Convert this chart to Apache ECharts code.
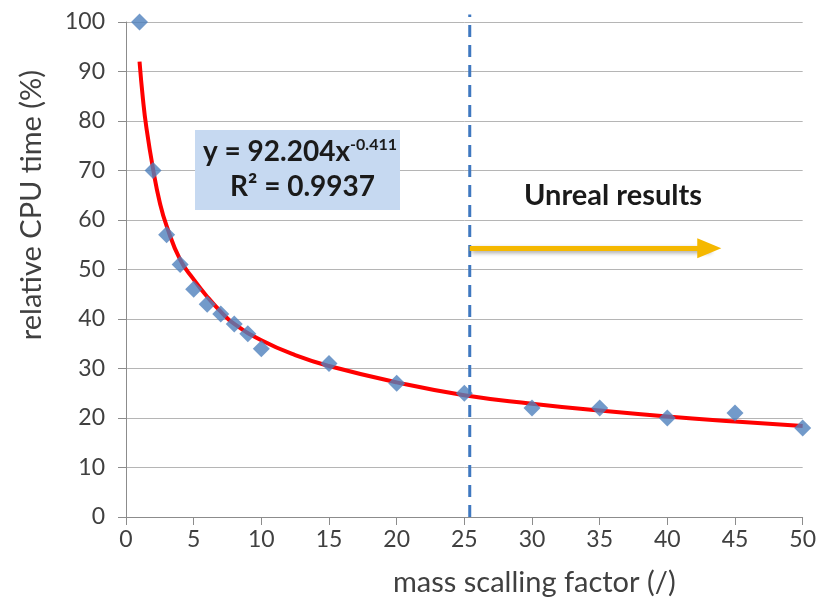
<!DOCTYPE html>
<html>
<head>
<meta charset="utf-8">
<script src="https://cdn.jsdelivr.net/npm/echarts@6/dist/echarts.min.js"></script>
<style>
  html, body { margin: 0; padding: 0; background: #fff; }
</style>
</head>
<body>
<div id="main" style="width: 819px; height: 602px"></div>
<script>
  // measured points
  var massFactor = [1, 2, 3, 4, 5, 6, 7, 8, 9, 10, 15, 20, 25, 30, 35, 40, 45, 50];
  var cpuTime = [100, 70, 57, 51, 46, 43, 41, 39, 37, 34, 31, 27, 25, 22, 22, 20, 21, 18];

  // power trend line
  var trendX = [1, 1.25, 1.5, 2, 2.5, 3, 4, 5, 6, 7, 8, 10, 12.5, 15, 20, 25, 30, 35, 40, 45, 50];
  var trendY = [92, 84.5, 78.8, 70.3, 63.5, 58.8, 52, 48, 44.5, 41.5, 39, 35.7, 32.7, 30.5, 27.2, 24.6, 22.9, 21.5, 20.3, 19.3, 18.4];

  var limitX = [25.4, 25.4];      // dashed "limit" line
  var limitY = [0, 101.5];
  var arrowY = 54.3;              // arrow height
  var arrowEndX = 43.1;

  var font = 'Lato, "Open Sans", sans-serif';

  var pts = [];
  for (var i = 0; i < massFactor.length; i++) pts.push([massFactor[i], cpuTime[i]]);
  var trend = [];
  for (var j = 0; j < trendX.length; j++) trend.push([trendX[j], trendY[j]]);
  var limit = [[limitX[0], limitY[0]], [limitX[1], limitY[1]]];

  var chart = echarts.init(document.getElementById('main'));
  chart.setOption({
    animation: false,
    grid: { left: 126, right: 16, top: 22, bottom: 85 },
    xAxis: {
      type: 'value', min: 0, max: 50, interval: 5,
      axisLine: { lineStyle: { color: '#8c8c8c', width: 1 } },
      axisTick: { show: true, length: 8, lineStyle: { color: '#8c8c8c' } },
      axisLabel: { color: '#404040', fontSize: 23, fontFamily: font, margin: 11 },
      splitLine: { show: false }
    },
    yAxis: {
      type: 'value', min: 0, max: 100, interval: 10,
      axisLine: { show: true, lineStyle: { color: '#8c8c8c', width: 1 } },
      axisTick: { show: true, length: 8, lineStyle: { color: '#8c8c8c' } },
      axisLabel: { color: '#404040', fontSize: 23, fontFamily: font, margin: 21 },
      splitLine: { lineStyle: { color: '#b5b5b5', width: 1 } }
    },
    series: [
      {
        type: 'line',
        data: limit,
        clip: false,
        showSymbol: false,
        lineStyle: { color: '#3f78c0', width: 3, type: [12, 8] },
        z: 2
      },
      {
        type: 'line',
        data: trend,
        smooth: true,
        showSymbol: false,
        lineStyle: { color: '#ff0000', width: 4 },
        z: 3
      },
      {
        type: 'scatter',
        data: pts,
        symbol: 'diamond',
        symbolSize: 17,
        itemStyle: { color: '#4f81bd' },
        z: 4,
        markLine: {
          silent: true,
          symbol: ['none', 'triangle'],
          symbolSize: [20, 24],
          label: { show: false },
          lineStyle: { color: '#f5b800', width: 5, type: 'solid', shadowColor: 'rgba(0,0,0,0.35)', shadowBlur: 4, shadowOffsetX: 2, shadowOffsetY: 2 },
          data: [
            [ { coord: [limitX[0], arrowY] }, { coord: [arrowEndX, arrowY] } ]
          ]
        }
      }
    ],
    graphic: [
      { type: 'rect', shape: { x: 195, y: 130, width: 205, height: 80 }, style: { fill: '#c6d9f1' }, z: 10 },
      {
        type: 'text', left: 203, top: 137, z: 11,
        style: {
          rich: {
            b: { fontSize: 28, fontWeight: 'bold', fontFamily: font, fill: '#1a1a1a' },
            sup: { fontSize: 16, fontWeight: 'bold', fontFamily: font, fill: '#1a1a1a', verticalAlign: 'top', padding: [0, 0, 14, 0] }
          },
          text: '{b|y = 92.204x}{sup|-0.411}'
        }
      },
      { type: 'text', left: 230, top: 173, z: 11,
        style: { text: 'R\u00b2 = 0.9937', fontSize: 28, fontWeight: 'bold', fontFamily: font, fill: '#1a1a1a' } },
      { type: 'text', left: 524, top: 181, z: 11,
        style: { text: 'Unreal results', fontSize: 29, fontWeight: 'bold', fontFamily: font, fill: '#1a1a1a' } },
      { type: 'text', left: 393, top: 568, z: 11,
        style: { text: 'mass scalling factor (/)', fontSize: 29, fontFamily: font, fill: '#404040' } },
      { type: 'text', left: 17, top: 70, rotation: Math.PI / 2, z: 11,
        style: { text: 'relative CPU time (%)', fontSize: 29, fontFamily: font, fill: '#404040' } }
    ]
  });
</script>
</body>
</html>
